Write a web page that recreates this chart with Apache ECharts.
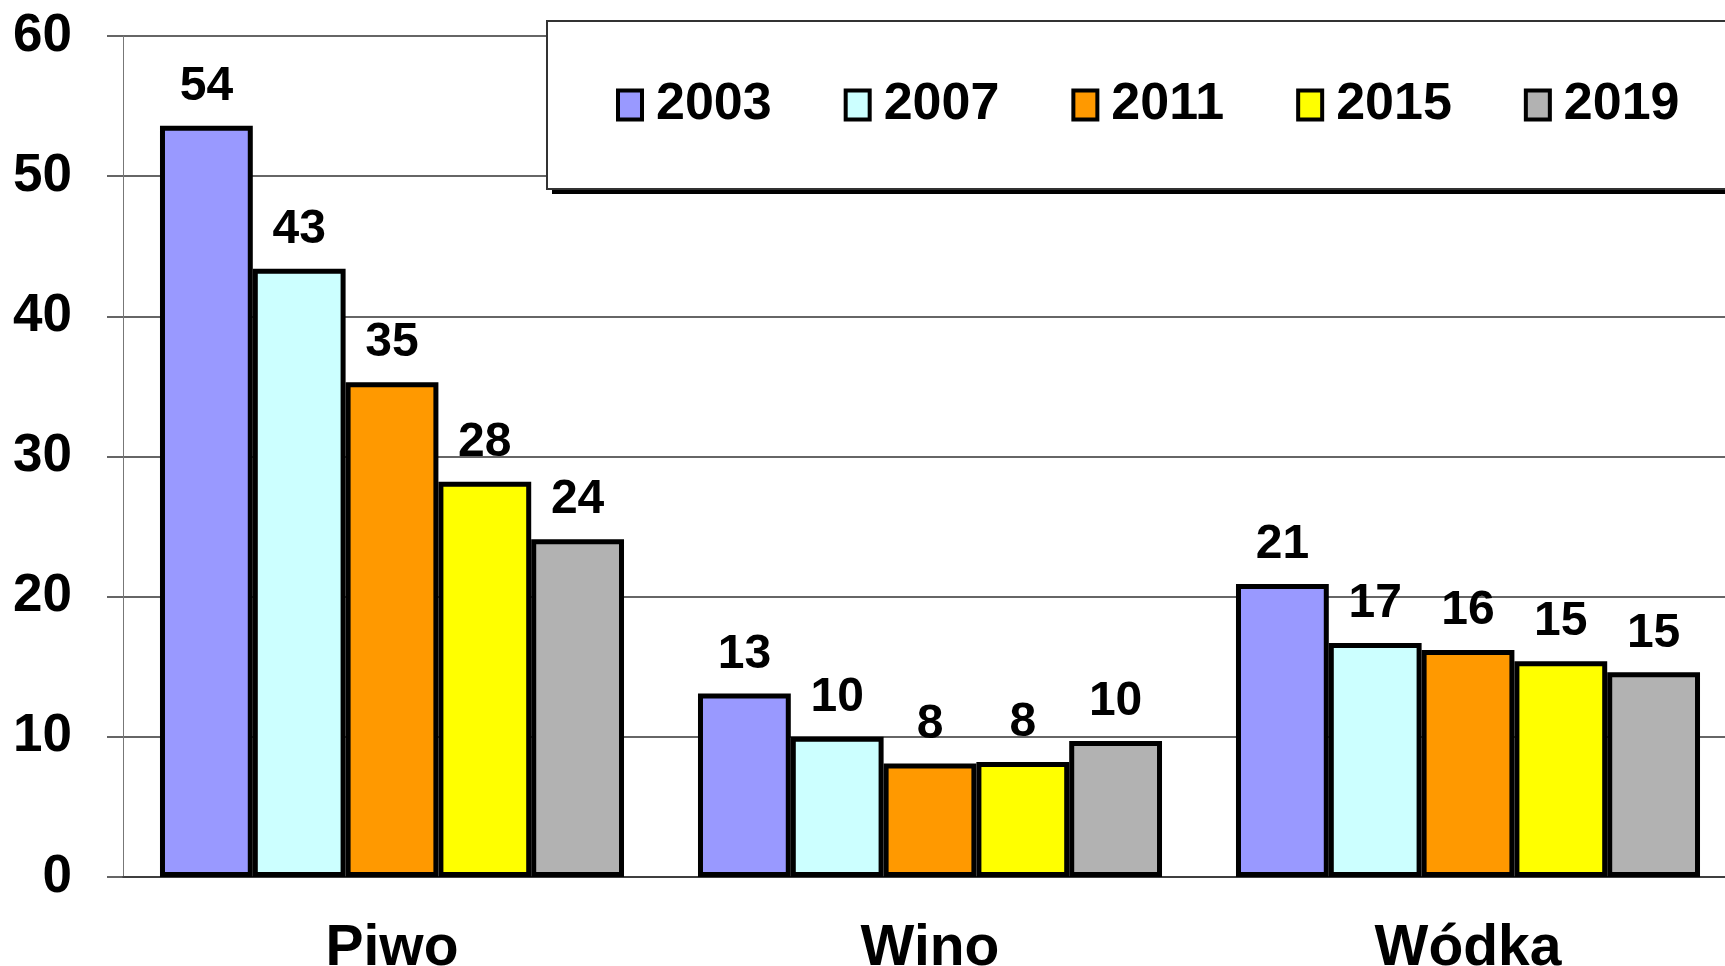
<!DOCTYPE html>
<html>
<head>
<meta charset="utf-8">
<script src="https://cdn.jsdelivr.net/npm/echarts@6/dist/echarts.min.js"></script>
<style>
    html, body { margin: 0; padding: 0; background: #fff; }
    #chart { width: 1725px; height: 966px; }
</style>
</head>
<body>
<div id="chart"></div>
<script>
// kategorie i wartości
const categories = ['Piwo', 'Wino', 'Wódka'];
const years = ['2003', '2007', '2011', '2015', '2019'];
const v2003 = [53.6, 13.1, 20.9];
const v2007 = [43.4, 10.0, 16.7];
const v2011 = [35.3, 8.1, 16.2];
const v2015 = [28.2, 8.2, 15.4];
const v2019 = [24.1, 9.7, 14.6];
const yTicks = [0, 10, 20, 30, 40, 50, 60];

const colors = ['#9999FF', '#CCFFFF', '#FF9900', '#FFFF00', '#B2B2B2'];
const font = 'Liberation Sans, Arial, sans-serif';

const seriesValues = [v2003, v2007, v2011, v2015, v2019];

let chart = echarts.init(document.getElementById('chart'));

chart.setOption({
    animation: false,
    color: colors,
    textStyle: { fontFamily: font, fontWeight: 'bold', color: '#000' },
    grid: { left: 123, top: 36, width: 1614, height: 841, outerBoundsMode: 'none' },
    // ramka legendy z czarnym cieniem
    graphic: [
        { type: 'rect', z: 3, shape: { x: 552, y: 26, width: 1300, height: 168 }, style: { fill: '#000' } },
        { type: 'rect', z: 3, shape: { x: 547, y: 21, width: 1300, height: 168 }, style: { fill: '#fff', stroke: '#333', lineWidth: 2 } }
    ],
    legend: {
        left: 547,
        top: 21,
        width: 1400,
        z: 5,
        selectedMode: false,
        padding: [58, 60, 58, 69],
        itemGap: 72,
        itemWidth: 24,
        itemHeight: 29,
        icon: 'rect',
        itemStyle: { borderColor: '#000', borderWidth: 4 },
        textStyle: {
            fontFamily: font,
            fontWeight: 'bold',
            fontSize: 52,
            color: '#000',
            padding: [0, 0, 0, 9]
        },
        data: years
    },
    xAxis: {
        type: 'category',
        data: categories,
        axisLine: { lineStyle: { color: '#333', width: 1.5 } },
        axisTick: { length: 16, lineStyle: { color: '#333', width: 1.5 } },
        axisLabel: { fontFamily: font, fontWeight: 'bold', fontSize: 57, color: '#000', margin: 44 }
    },
    yAxis: {
        type: 'value',
        min: yTicks[0],
        max: yTicks[yTicks.length - 1],
        interval: 10,
        axisLine: { show: true, lineStyle: { color: '#777', width: 1 } },
        axisTick: { show: true, length: 16, lineStyle: { color: '#333', width: 1.5 } },
        splitLine: { lineStyle: { color: '#333', width: 1.5 } },
        axisLabel: { fontFamily: font, fontWeight: 'bold', fontSize: 53, color: '#000', margin: 51 }
    },
    series: years.map((y, i) => ({
        name: y,
        type: 'bar',
        barGap: '0%',
        barCategoryGap: '13.75%',
        data: seriesValues[i],
        itemStyle: { color: colors[i], borderColor: '#000', borderWidth: 5 },
        label: {
            show: true,
            position: 'top',
            distance: 15,
            fontFamily: font,
            fontWeight: 'bold',
            fontSize: 48,
            color: '#000',
            formatter: (p) => Math.round(p.value)
        }
    }))
});
</script>
</body>
</html>
